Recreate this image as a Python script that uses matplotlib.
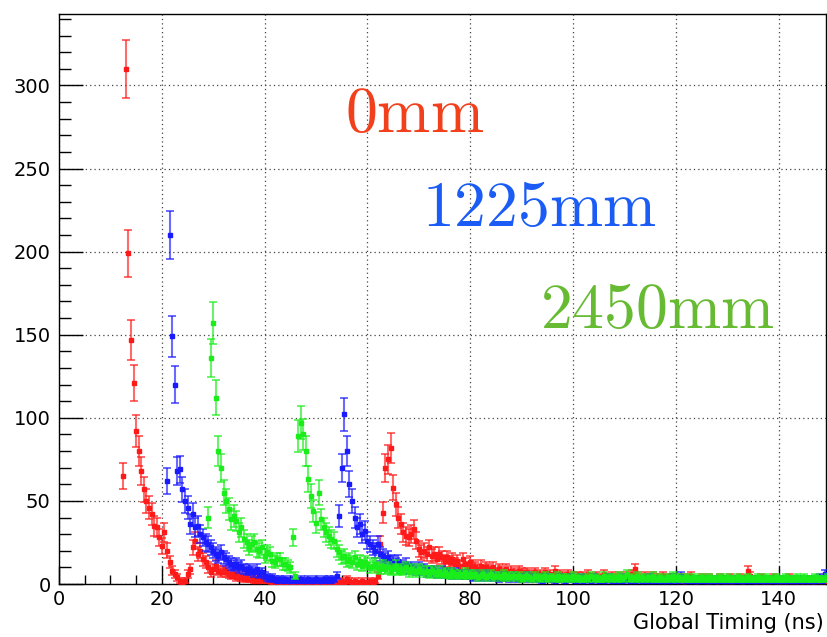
"""
plot.py

Global timing histograms for three source positions (0mm / 1225mm / 2450mm),
drawn ROOT-style: square markers with Poisson (sqrt N) error bars.
"""

import numpy as np
import matplotlib
matplotlib.use("Agg")
import matplotlib.pyplot as plt
from matplotlib.ticker import MultipleLocator

# ---------------------------------------------------------
# Data: counts per 0.5 ns bin
# ---------------------------------------------------------
BIN_WIDTH = 0.5

red_start = 12.5
red_counts = [
    65, 310, 199, 147, 121, 92, 80, 68, 57, 50,
    46, 42, 35, 34, 28, 23, 31, 20, 13, 8,
    6, 4, 2, 1, 2, 6, 9, 22, 26, 18,
    20, 15, 13, 10, 7, 9, 11, 8, 7, 8,
    7, 6, 5, 6, 4, 5, 4, 3, 4, 3,
    3, 2, 3, 2, 3, 2, 3, 2, 1, 2,
    1, 1, 2, 1, 0, 1, 0, 1, 0, 1,
    0, 1, 1, 0, 1, 0, 1, 1, 0, 1,
    2, 1, 0, 1, 1, 2, 1, 3, 2, 1,
    2, 1, 1, 2, 1, 1, 2, 1, 2, 5,
    24, 43, 70, 75, 82, 58, 48, 40, 36, 31,
    29, 28, 30, 33, 26, 21, 19, 20, 18, 22,
    17, 18, 15, 18, 16, 14, 16, 13, 15, 12,
    14, 11, 15, 12, 10, 13, 11, 10, 9, 11,
    8, 10, 9, 8, 10, 7, 9, 8, 7, 9,
    6, 8, 7, 6, 8, 7, 6, 7, 5, 6,
    7, 5, 6, 5, 7, 5, 6, 4, 8, 5,
    6, 4, 5, 6, 4, 5, 4, 5, 3, 5,
    4, 6, 3, 4, 5, 3, 4, 6, 3, 4,
    5, 3, 4, 5, 3, 4, 5, 4, 6, 9,
    5, 4, 3, 5, 4, 3, 5, 4, 3, 4,
    5, 3, 4, 3, 4, 3, 4, 3, 2, 4,
    3, 5, 3, 2, 3, 4, 3, 2, 4, 3,
    3, 2, 4, 3, 2, 3, 4, 2, 3, 3,
    4, 2, 3, 8, 5, 3, 2, 3, 4, 2,
    3, 2, 3, 4, 2, 3, 2, 3, 2, 4,
    2, 3, 2, 3, 2, 3, 2, 3, 2, 2,
    3, 2, 3, 2, 3,
]

blue_start = 21.0
blue_counts = [
    62, 210, 149, 120, 68, 69, 57, 50, 46, 36,
    42, 34, 35, 30, 28, 25, 24, 22, 20, 18,
    17, 19, 16, 15, 13, 12, 11, 12, 10, 11,
    9, 8, 9, 8, 7, 9, 6, 7, 5, 4,
    3, 4, 3, 2, 3, 2, 3, 2, 2, 3,
    2, 2, 3, 2, 2, 3, 2, 2, 3, 2,
    2, 3, 2, 3, 2, 3, 5, 41, 70, 102,
    80, 60, 50, 40, 34, 36, 30, 32, 26, 24,
    22, 20, 24, 18, 17, 15, 16, 14, 13, 12,
    14, 11, 10, 12, 9, 10, 9, 8, 10, 8,
    9, 7, 8, 7, 8, 6, 7, 8, 6, 7,
    6, 5, 7, 6, 5, 6, 5, 6, 5, 4,
    6, 5, 4, 5, 6, 4, 5, 4, 5, 3,
    4, 5, 4, 3, 4, 5, 3, 4, 3, 4,
    5, 3, 4, 3, 4, 3, 2, 4, 3, 4,
    3, 2, 3, 4, 3, 2, 3, 4, 3, 2,
    3, 4, 2, 3, 3, 2, 4, 3, 2, 3,
    2, 3, 4, 2, 3, 2, 3, 2, 4, 3,
    2, 3, 2, 3, 3, 2, 3, 2, 4, 2,
    3, 2, 3, 2, 2, 3, 2, 4, 3, 2,
    5, 3, 2, 3, 2, 3, 2, 2, 3, 2,
    3, 2, 2, 3, 2, 3, 2, 3, 2, 2,
    3, 2, 3, 2, 2, 3, 2, 3, 2, 3,
    2, 3, 2, 2, 3, 2, 3, 2, 2, 3,
    2, 3, 2, 3, 2, 2, 3, 2, 3, 2,
    3, 2, 2, 3, 4, 2, 6, 3,
]

green_start = 29.0
green_counts = [
    40, 136, 157, 112, 80, 70, 55, 50, 45, 39,
    41, 38, 31, 34, 27, 25, 22, 24, 25, 21,
    20, 22, 17, 19, 18, 14, 13, 15, 15, 12,
    12, 11, 10, 28, 5, 89, 97, 90, 80, 63,
    53, 44, 37, 55, 39, 34, 31, 29, 27, 26,
    21, 19, 16, 17, 14, 15, 13, 16, 12, 14,
    11, 13, 12, 10, 11, 12, 10, 9, 11, 9,
    10, 8, 9, 11, 8, 9, 8, 10, 7, 9,
    8, 7, 9, 8, 7, 8, 6, 8, 7, 6,
    8, 6, 7, 6, 5, 7, 6, 5, 6, 5,
    7, 5, 6, 5, 6, 4, 5, 6, 4, 5,
    6, 4, 5, 5, 4, 6, 4, 5, 4, 5,
    4, 5, 3, 4, 5, 4, 3, 5, 4, 3,
    4, 5, 3, 4, 4, 3, 5, 3, 4, 3,
    4, 3, 5, 3, 4, 3, 3, 4, 3, 5,
    3, 4, 3, 3, 5, 3, 4, 3, 4, 3,
    5, 3, 4, 6, 3, 4, 3, 5, 3, 4,
    3, 4, 3, 5, 3, 3, 4, 3, 3, 4,
    3, 5, 3, 4, 3, 3, 4, 3, 3, 4,
    3, 3, 4, 3, 3, 4, 3, 3, 3, 4,
    3, 3, 4, 3, 3, 3, 4, 3, 3, 3,
    4, 3, 3, 3, 4, 3, 3, 4, 3, 3,
    3, 4, 3, 3, 3, 4, 3, 3, 3, 4,
    3, 3, 4, 3, 3, 3, 4, 3, 3, 3,
    3, 4,
]

series_labels = ["0mm", "1225mm", "2450mm"]
x_ticks = [0, 20, 40, 60, 80, 100, 120, 140]
y_ticks = [0, 50, 100, 150, 200, 250, 300]


def draw_hist(ax, start, counts, color, zorder):
    counts = np.asarray(counts, dtype=float)
    t = start + BIN_WIDTH * np.arange(len(counts))
    err = np.sqrt(counts)
    ax.errorbar(t, counts, yerr=err, fmt="none", ecolor=color,
                elinewidth=1.5, capsize=2.8, capthick=1.4, alpha=0.65,
                zorder=zorder)
    ax.plot(t, counts, "s", ms=3.4, color=color, mec=color, zorder=zorder + 0.5)


def main():
    plt.rcParams["font.family"] = ["DejaVu Sans"]
    plt.rcParams["mathtext.fontset"] = "cm"

    fig = plt.figure(figsize=(8.28, 6.37), dpi=100)
    ax = fig.add_axes([59 / 828, 53 / 637, 767 / 828, 570 / 637])

    # histograms (red under blue under green, as in the original)
    draw_hist(ax, red_start, red_counts, "#ff1a1a", 3)
    draw_hist(ax, blue_start, blue_counts, "#1a1aff", 4)
    draw_hist(ax, green_start, green_counts, "#1aee1a", 5)

    ax.set_xlim(0, 149.2)
    ax.set_ylim(0, 343)

    # ROOT-like axes: ticks inside, dotted grid on major ticks
    ax.set_xticks(x_ticks)
    ax.set_yticks(y_ticks)
    ax.xaxis.set_minor_locator(MultipleLocator(5))
    ax.yaxis.set_minor_locator(MultipleLocator(10))
    ax.tick_params(axis="x", which="major", direction="in", length=13,
                   width=1, labelsize=14, pad=4)
    ax.tick_params(axis="x", which="minor", direction="in", length=6.5, width=1)
    ax.tick_params(axis="y", which="major", direction="in", length=17,
                   width=1, labelsize=14, pad=6)
    ax.tick_params(axis="y", which="minor", direction="in", length=8.5, width=1)
    ax.grid(True, which="major", color="#444444", linestyle=(0, (1, 2.5)),
            linewidth=0.9, zorder=0)
    ax.set_axisbelow(True)
    for s in ax.spines.values():
        s.set_linewidth(1.0)

    fig.text(824 / 828, 1 - 623 / 637, "Global Timing (ns)", ha="right",
             va="center", fontsize=15)

    # position labels in a Computer Modern serif face
    ax.text(55.6, 272, r"$\mathrm{" + series_labels[0] + "}$", color="#f2401c",
            fontsize=46, ha="left", va="baseline")
    ax.text(70.6, 215.5, r"$\mathrm{" + series_labels[1] + "}$", color="#1a5cf5",
            fontsize=46, ha="left", va="baseline")
    ax.text(93.6, 154, r"$\mathrm{" + series_labels[2] + "}$", color="#66bb33",
            fontsize=46, ha="left", va="baseline")

    fig.savefig("out.png", dpi=100)


if __name__ == "__main__":
    main()
